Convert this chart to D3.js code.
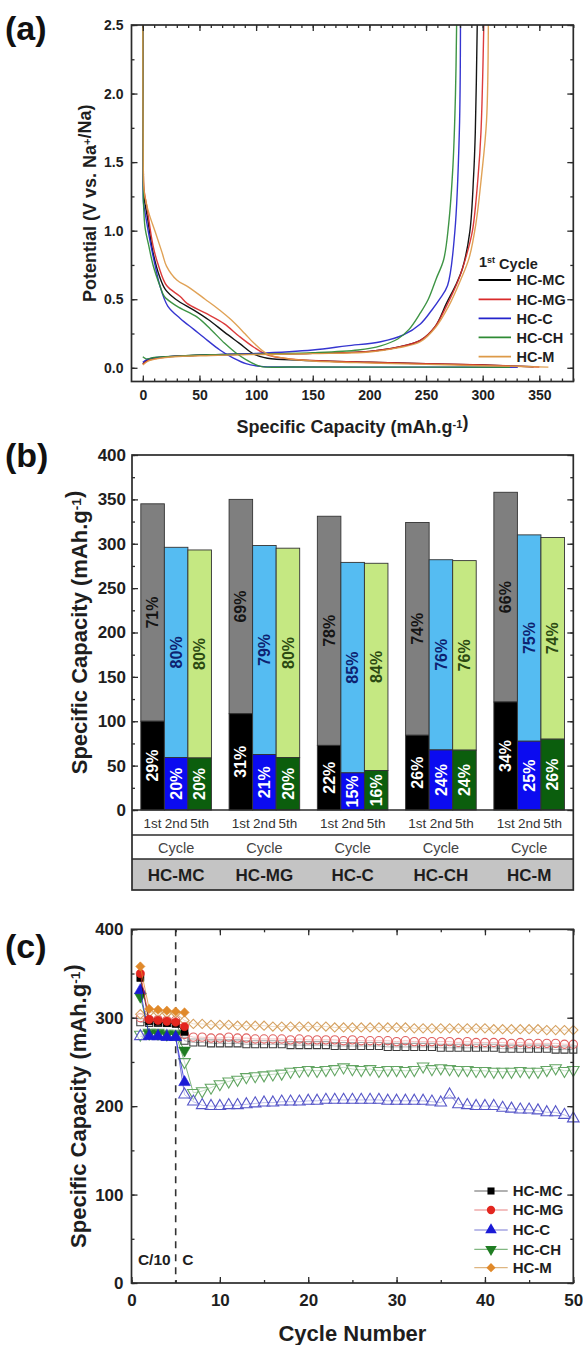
<!DOCTYPE html>
<html>
<head>
<meta charset="utf-8">
<script src="https://cdn.jsdelivr.net/npm/d3@7"></script>
<style>
  body { margin: 0; background: #fff; }
  svg { display: block; }
</style>
</head>
<body>
<svg id="chart" width="583" height="1345"></svg>
<script>
// ---------------- shared ----------------
const sampleNames = ["HC-MC", "HC-MG", "HC-C", "HC-CH", "HC-M"];

// ---------------- (a) first-cycle voltage profiles: [capacity mAh/g, potential V] ----------------
const dischargeHCMC = [[0,2.5],[0.4,1.5],[1,1.25],[4,1.1],[9,0.84],[15,0.66],[20,0.57],[29,0.5],[45,0.42],[58,0.35],[72,0.26],[85,0.18],[98,0.1],[110,0.07],[140,0.055],[200,0.04],[250,0.03],[300,0.02],[345,0.008]];
const dischargeHCMG = [[0,2.5],[0.4,1.5],[1,1.3],[3.5,1.18],[9,0.89],[14,0.74],[21,0.6],[33,0.52],[39,0.47],[55,0.4],[72,0.32],[85,0.23],[98,0.15],[111,0.09],[130,0.065],[160,0.05],[200,0.04],[250,0.03],[300,0.02],[350,0.006]];
const dischargeHCC  = [[0,2.5],[0.3,1.5],[0.6,1.2],[2,1.13],[6,0.94],[11,0.74],[15,0.6],[22,0.45],[33,0.36],[45,0.28],[57,0.2],[68,0.13],[80,0.07],[91,0.03],[104,0.01],[130,0.006],[200,0.005],[331,0.004]];
const dischargeHCCH = [[0,2.5],[0.3,1.5],[0.6,1.2],[2,1.02],[5,0.9],[9,0.75],[15,0.6],[19,0.52],[30,0.45],[48,0.37],[60,0.28],[72,0.18],[82,0.11],[91,0.06],[104,0.01],[130,0.006],[200,0.005],[324,0.004]];
const dischargeHCM  = [[0,2.5],[0.3,1.6],[1,1.3],[3,1.2],[6,1.11],[11,0.99],[17,0.84],[21,0.74],[30,0.64],[40,0.59],[55,0.5],[68,0.42],[78,0.35],[90,0.25],[98,0.18],[110,0.1],[125,0.07],[150,0.05],[200,0.035],[250,0.025],[300,0.015],[358,0.005]];

const chargeHCMC = [[0,0.03],[5,0.06],[20,0.08],[60,0.095],[100,0.1],[150,0.105],[200,0.12],[225,0.15],[245,0.2],[258,0.3],[268,0.47],[276,0.6],[282,0.72],[288.6,0.99],[292,1.4],[293.5,1.72],[295.2,2.5]];
const chargeHCMG = [[0,0.025],[5,0.055],[20,0.078],[60,0.093],[100,0.1],[150,0.105],[200,0.12],[225,0.15],[245,0.2],[258,0.3],[268,0.45],[279,0.65],[285,0.8],[291,1.0],[296,1.4],[298.5,1.72],[301,2.5]];
const chargeHCC  = [[0,0.04],[5,0.065],[20,0.08],[60,0.095],[100,0.105],[150,0.13],[180,0.16],[210,0.19],[230,0.24],[245,0.32],[255,0.42],[262,0.5],[269,0.6],[275.4,0.99],[279.4,1.72],[280.4,2.5]];
const chargeHCCH = [[0,0.08],[3,0.065],[10,0.075],[30,0.085],[60,0.095],[100,0.1],[150,0.11],[190,0.13],[210,0.16],[225,0.21],[235,0.28],[245,0.4],[252,0.5],[259,0.65],[265.6,0.79],[270,1.05],[273.8,1.48],[276,2.0],[277,2.5]];
const chargeHCM  = [[0,0.02],[5,0.05],[20,0.075],[60,0.09],[100,0.097],[150,0.103],[200,0.115],[225,0.145],[245,0.19],[258,0.29],[270,0.45],[281,0.65],[288,0.8],[294,1.05],[299,1.4],[303.4,1.8],[305,2.5]];

// ---------------- (b) capacity per cycle with split percentages ----------------
const cycleLabels = ["1st", "2nd", "5th"];
const capacityHCMC = [345, 296, 293];
const capacityHCMG = [350, 298, 295];
const capacityHCC  = [331, 279, 278];
const capacityHCCH = [324, 282, 281];
const capacityHCM  = [358, 310, 307];
const lowerShareHCMC = [29, 20, 20];
const lowerShareHCMG = [31, 21, 20];
const lowerShareHCC  = [22, 15, 16];
const lowerShareHCCH = [26, 24, 24];
const lowerShareHCM  = [34, 25, 26];

// ---------------- (c) cycling: filled = cycles 1-6, open = cycles 1-50 ----------------
const filledHCMC = [345, 296, 295, 294, 293, 284];
const filledHCMG = [350, 298, 297, 296, 295, 290];
const filledHCC  = [331, 279, 279, 278, 278, 227];
const filledHCCH = [324, 282, 282, 281, 281, 263];
const filledHCM  = [358, 310, 309, 308, 307, 306];

const openHCMC = [295,294,294,294,294,274,272,272,271,271, 271,271,270,270,270,270,270,269,269,269, 269,269,268,268,268,268,268,268,267,267, 267,267,267,267,266,266,266,266,266,266, 266,265,265,265,265,265,265,264,264,264];
const openHCMG = [300,298,298,297,297,281,278,278,277,277, 278,277,277,276,276,276,276,275,276,275, 275,275,275,274,275,274,274,274,274,273, 274,273,273,273,273,273,272,273,272,272, 272,272,271,272,271,271,271,271,270,270];
const openHCC  = [279,280,279,279,278,213,205,201,200,200, 201,201,202,203,204,204,205,205,205,206, 206,207,207,207,207,207,207,207,206,206, 206,206,206,205,204,213,202,201,200,200, 200,198,197,196,196,195,193,193,190,186];
const openHCCH = [281,283,283,282,282,250,215,217,221,225, 228,230,233,234,235,236,237,239,240,241, 240,241,242,244,242,241,242,240,241,241, 240,241,245,242,243,242,241,241,240,240, 239,239,239,240,239,239,241,243,240,241];
const openHCM  = [304,306,306,305,305,297,293,293,292,292, 292,291,291,291,291,290,290,290,290,290, 290,290,289,289,289,289,289,289,289,289, 289,288,288,288,288,288,288,288,288,288, 287,287,287,287,287,287,286,286,286,286];

// ---------------- styling ----------------
const FONT = '"Liberation Sans", Arial, Helvetica, sans-serif';
const INK = "#2b2b2b";
const profileColors = ["#000000", "#d92b2b", "#2424cc", "#2e8b35", "#dd9a48"];
const filledColors  = ["#000000", "#e3261f", "#1a1ad6", "#1f7d22", "#e0892a"];
const openColors    = ["#3c3c3c", "#e06060", "#5555c8", "#62a562", "#d6a262"];
const upperFill = ["#7f7f7f", "#55bcf2", "#c5e882"];
const lowerFill = ["#000000", "#0b0bf0", "#0b5e0d"];
const upperText = ["#151515", "#0d2270", "#2c4a12"];

const svg = d3.select("#chart").attr("font-family", FONT);
svg.append("rect").attr("width", 583).attr("height", 1345).attr("fill", "#fff");

function styleAxis(sel, fs) {
  sel.select(".domain").remove();
  sel.selectAll(".tick line").attr("stroke", INK).attr("stroke-width", 1.3);
  sel.selectAll(".tick text").attr("font-size", fs).attr("font-weight", "bold")
     .attr("fill", "#1e1e1e").attr("font-family", FONT);
}

function addAxis(g, axisFn, scale, at, values, size, fs, pad, fmt) {
  const ax = axisFn(scale).tickValues(values).tickSizeInner(-size).tickSizeOuter(0).tickPadding(pad || 0);
  ax.tickFormat(fmt === null ? () => "" : (fmt || d3.format("d")));
  const isVert = (axisFn === d3.axisLeft || axisFn === d3.axisRight);
  const sel = g.append("g").attr("transform", isVert ? `translate(${at},0)` : `translate(0,${at})`).call(ax);
  styleAxis(sel, fs);
  return sel;
}

function frame(g, x0, y0, x1, y1) {
  g.append("rect").attr("x", x0).attr("y", y0).attr("width", x1 - x0).attr("height", y1 - y0)
   .attr("fill", "none").attr("stroke", INK).attr("stroke-width", 1.7);
}

function supTitle(g, parts, attrs) {
  const t = g.append("text").attr("font-weight", "bold").attr("fill", "#1e1e1e").attr("text-anchor", "middle");
  Object.entries(attrs).forEach(([k, v]) => t.attr(k, v));
  parts.forEach(p => {
    if (p.sup) {
      t.append("tspan").attr("dy", "-0.45em").attr("font-size", "0.62em").text(p.sup);
      t.append("tspan").attr("dy", "0.28em").text("");
    } else {
      t.append("tspan").text(p.t);
    }
  });
  return t;
}

function panelLabel(text, y) {
  svg.append("text").attr("x", 5).attr("y", y).attr("font-size", 34).attr("font-weight", "bold")
     .attr("fill", "#111").text(text);
}

// ======================= Panel (a) =======================
{
  const L = 131.5, R = 573.3, T = 25, B = 381.5;
  const x = d3.scaleLinear().domain([-10, 380]).range([L, R]);
  const y = d3.scaleLinear().domain([-0.1, 2.5]).range([B, T]);
  const g = svg.append("g");

  const clipId = "clipA";
  g.append("clipPath").attr("id", clipId).append("rect").attr("x", L).attr("y", T).attr("width", R - L).attr("height", B - T);

  const line = d3.line().x(d => x(d[0])).y(d => y(d[1])).curve(d3.curveCatmullRom.alpha(0.5));
  const discharges = [dischargeHCMC, dischargeHCMG, dischargeHCC, dischargeHCCH, dischargeHCM];
  const charges = [chargeHCMC, chargeHCMG, chargeHCC, chargeHCCH, chargeHCM];
  const curves = g.append("g").attr("clip-path", `url(#${clipId})`);
  sampleNames.forEach((s, i) => {
    [discharges[i], charges[i]].forEach(data => {
      curves.append("path").datum(data).attr("d", line).attr("fill", "none")
        .attr("stroke", profileColors[i]).attr("stroke-width", 1.4).attr("stroke-opacity", 0.92);
    });
  });

  const xMajor = d3.range(0, 351, 50), xMinor = d3.range(0, 381, 10);
  const yMajor = [0, 0.5, 1, 1.5, 2, 2.5], yMinor = d3.range(0, 2.51, 0.25);
  addAxis(g, d3.axisBottom, x, B, xMinor, 3, 14, 0, null);
  addAxis(g, d3.axisBottom, x, B, xMajor, 6, 14, 9);
  addAxis(g, d3.axisTop, x, T, xMinor, 3, 14, 0, null);
  addAxis(g, d3.axisTop, x, T, xMajor, 6, 14, 0, null);
  addAxis(g, d3.axisLeft, y, L, yMinor, 3, 14, 0, null);
  addAxis(g, d3.axisLeft, y, L, yMajor, 6, 14, 8, d3.format(".1f"));
  addAxis(g, d3.axisRight, y, R, yMinor, 3, 14, 0, null);
  addAxis(g, d3.axisRight, y, R, yMajor, 6, 14, 0, null);
  frame(g, L, T, R, B);

  supTitle(g, [{t: "Specific Capacity (mAh.g"}, {sup: "-1"}, {t: ")"}],
    {x: (L + R) / 2, y: 433, "font-size": 18});
  supTitle(g, [{t: "Potential (V vs. Na"}, {sup: "+"}, {t: "/Na)"}],
    {transform: `translate(96,${(T + B) / 2}) rotate(-90)`, "font-size": 18});

  // legend
  const lg = g.append("g");
  const t1 = lg.append("text").attr("x", 479).attr("y", 267).attr("font-size", 14.5).attr("font-weight", "bold").attr("fill", "#1e1e1e");
  t1.append("tspan").text("1");
  t1.append("tspan").attr("dy", "-0.45em").attr("font-size", "0.62em").text("st");
  t1.append("tspan").attr("dy", "0.45em").text(" Cycle");
  const legY = [280, 299.3, 318.3, 337.3, 356.7];
  sampleNames.forEach((s, i) => {
    lg.append("line").attr("x1", 478.6).attr("x2", 511).attr("y1", legY[i]).attr("y2", legY[i])
      .attr("stroke", profileColors[i]).attr("stroke-width", 1.8);
    lg.append("text").attr("x", 516.6).attr("y", legY[i] + 5.2).attr("font-size", 14.5)
      .attr("font-weight", "bold").attr("fill", "#1e1e1e").text(s);
  });
  panelLabel("(a)", 40);
}

// ======================= Panel (b) =======================
{
  const L = 132, R = 573.3, T = 455, B = 810;
  const rowCycle = 835, rowName = 859, tableBottom = 890;
  const y = d3.scaleLinear().domain([0, 400]).range([B, T]);
  const xg = d3.scaleBand().domain(sampleNames).range([L, R]).paddingInner(0.2).paddingOuter(0.1);
  const xc = d3.scaleBand().domain(cycleLabels).range([0, xg.bandwidth()]);
  const g = svg.append("g");

  const capacities = [capacityHCMC, capacityHCMG, capacityHCC, capacityHCCH, capacityHCM];
  const shares = [lowerShareHCMC, lowerShareHCMG, lowerShareHCC, lowerShareHCCH, lowerShareHCM];
  const rows = [];
  sampleNames.forEach((s, i) => cycleLabels.forEach((c, j) => {
    const total = capacities[i][j], low = shares[i][j];
    rows.push({sample: s, cycle: c, j, total, low, lowValue: total * low / 100});
  }));

  // table background
  g.append("rect").attr("x", L).attr("y", rowName).attr("width", R - L).attr("height", tableBottom - rowName).attr("fill", "#c4c4c4");

  const bars = g.append("g");
  rows.forEach(d => {
    const bx = xg(d.sample) + xc(d.cycle), bw = xc.bandwidth();
    bars.append("rect").attr("x", bx).attr("width", bw)
      .attr("y", y(d.total)).attr("height", y(d.lowValue) - y(d.total))
      .attr("fill", upperFill[d.j]).attr("stroke", "#333").attr("stroke-width", 0.9);
    bars.append("rect").attr("x", bx).attr("width", bw)
      .attr("y", y(d.lowValue)).attr("height", y(0) - y(d.lowValue))
      .attr("fill", lowerFill[d.j]).attr("stroke", "#333").attr("stroke-width", 0.9);
    const cx = bx + bw / 2;
    const upMid = (y(d.total) + y(d.lowValue)) / 2, lowMid = (y(d.lowValue) + y(0)) / 2;
    bars.append("text").attr("transform", `translate(${cx + 5.6},${upMid}) rotate(-90)`)
      .attr("text-anchor", "middle").attr("font-size", 16).attr("font-weight", "bold")
      .attr("fill", upperText[d.j]).text((100 - d.low) + "%");
    bars.append("text").attr("transform", `translate(${cx + 5.6},${lowMid}) rotate(-90)`)
      .attr("text-anchor", "middle").attr("font-size", 16).attr("font-weight", "bold")
      .attr("fill", "#ffffff").text(d.low + "%");
  });

  addAxis(g, d3.axisLeft, y, L, d3.range(0, 401, 25), 3, 17, 0, null);
  addAxis(g, d3.axisLeft, y, L, d3.range(0, 401, 50), 6, 17, 6);
  addAxis(g, d3.axisRight, y, R, d3.range(0, 401, 25), 3, 17, 0, null);
  addAxis(g, d3.axisRight, y, R, d3.range(0, 401, 50), 6, 17, 0, null);

  // table labels
  rows.forEach(d => {
    g.append("text").attr("x", xg(d.sample) + xc(d.cycle) + xc.bandwidth() / 2).attr("y", 828)
      .attr("text-anchor", "middle").attr("font-size", 13.5).attr("fill", "#333").text(d.cycle);
  });
  sampleNames.forEach(s => {
    const cx = xg(s) + xg.bandwidth() / 2;
    g.append("text").attr("x", cx).attr("y", 852.5).attr("text-anchor", "middle")
      .attr("font-size", 14.5).attr("fill", "#444").text("Cycle");
    g.append("text").attr("x", cx).attr("y", 881).attr("text-anchor", "middle")
      .attr("font-size", 17).attr("font-weight", "bold").attr("fill", "#1e1e1e").text(s);
  });

  frame(g, L, T, R, tableBottom);
  [B, rowCycle, rowName].forEach(yy => g.append("line").attr("x1", L).attr("x2", R).attr("y1", yy).attr("y2", yy)
    .attr("stroke", INK).attr("stroke-width", 1.5));

  supTitle(g, [{t: "Specific Capacity (mAh.g"}, {sup: "-1"}, {t: ")"}],
    {transform: `translate(87,${(T + B) / 2}) rotate(-90)`, "font-size": 22});
  panelLabel("(b)", 467);
}

// ======================= Panel (c) =======================
{
  const L = 131.5, R = 573.3, T = 929.3, B = 1283;
  const x = d3.scaleLinear().domain([0, 50]).range([L, R]);
  const y = d3.scaleLinear().domain([0, 400]).range([B, T]);
  const g = svg.append("g");
  const cycles = d3.range(1, 51);

  // rate change marker
  g.append("line").attr("x1", x(5)).attr("x2", x(5)).attr("y1", T).attr("y2", B)
    .attr("stroke", "#333").attr("stroke-width", 1.6).attr("stroke-dasharray", "7,6");
  g.append("text").attr("x", x(5) - 5).attr("y", 1265).attr("text-anchor", "end")
    .attr("font-size", 15.5).attr("font-weight", "bold").attr("fill", "#1e1e1e").text("C/10");
  g.append("text").attr("x", x(5) + 6.5).attr("y", 1265)
    .attr("font-size", 15.5).attr("font-weight", "bold").attr("fill", "#1e1e1e").text("C");

  const symbols = [
    {type: d3.symbolSquare, size: 50, rot: 0},
    {type: d3.symbolCircle, size: 54, rot: 0},
    {type: d3.symbolTriangle, size: 58, rot: 0},
    {type: d3.symbolTriangle, size: 58, rot: 180},
    {type: d3.symbolSquare, size: 42, rot: 45}
  ];
  const filled = [filledHCMC, filledHCMG, filledHCC, filledHCCH, filledHCM];
  const open = [openHCMC, openHCMG, openHCC, openHCCH, openHCM];
  const line = d3.line().x(d => x(d[0])).y(d => y(d[1]));
  const drawOrder = [3, 2, 0, 1, 4];

  drawOrder.forEach(i => {
    const pts = cycles.map((c, k) => [c, open[i][k]]);
    g.append("path").datum(pts).attr("d", line).attr("fill", "none")
      .attr("stroke", openColors[i]).attr("stroke-width", 1).attr("stroke-opacity", 0.8);
    const sym = d3.symbol().type(symbols[i].type).size(symbols[i].size);
    g.append("g").selectAll("path").data(pts).join("path")
      .attr("d", sym)
      .attr("transform", d => `translate(${x(d[0])},${y(d[1])}) rotate(${symbols[i].rot})`)
      .attr("fill", "#fff").attr("fill-opacity", 0.55)
      .attr("stroke", openColors[i]).attr("stroke-width", 1.1);
  });
  drawOrder.forEach(i => {
    const pts = filled[i].map((v, k) => [cycles[k], v]);
    g.append("path").datum(pts).attr("d", line).attr("fill", "none")
      .attr("stroke", filledColors[i]).attr("stroke-width", 1).attr("stroke-opacity", 0.75);
    const sym = d3.symbol().type(symbols[i].type).size(symbols[i].size);
    g.append("g").selectAll("path").data(pts).join("path")
      .attr("d", sym)
      .attr("transform", d => `translate(${x(d[0])},${y(d[1])}) rotate(${symbols[i].rot})`)
      .attr("fill", filledColors[i]).attr("stroke", filledColors[i]).attr("stroke-width", 0.6);
  });

  addAxis(g, d3.axisBottom, x, B, d3.range(0, 51, 5), 3, 17, 0, null);
  addAxis(g, d3.axisBottom, x, B, d3.range(0, 51, 10), 6, 17, 11);
  addAxis(g, d3.axisTop, x, T, d3.range(0, 51, 5), 3, 17, 0, null);
  addAxis(g, d3.axisTop, x, T, d3.range(0, 51, 10), 6, 17, 0, null);
  addAxis(g, d3.axisLeft, y, L, d3.range(0, 401, 50), 3, 17, 0, null);
  addAxis(g, d3.axisLeft, y, L, d3.range(0, 401, 100), 6, 17, 8);
  addAxis(g, d3.axisRight, y, R, d3.range(0, 401, 50), 3, 17, 0, null);
  addAxis(g, d3.axisRight, y, R, d3.range(0, 401, 100), 6, 17, 0, null);
  frame(g, L, T, R, B);

  g.append("text").attr("x", (L + R) / 2).attr("y", 1341).attr("text-anchor", "middle")
    .attr("font-size", 22).attr("font-weight", "bold").attr("fill", "#1e1e1e").text("Cycle Number");
  supTitle(g, [{t: "Specific Capacity (mAh.g"}, {sup: "-1"}, {t: ")"}],
    {transform: `translate(86,${(T + B) / 2}) rotate(-90)`, "font-size": 22});

  // legend
  const legY = [1191, 1210, 1230, 1249.3, 1267.7];
  sampleNames.forEach((s, i) => {
    g.append("line").attr("x1", 474.3).attr("x2", 507.7).attr("y1", legY[i]).attr("y2", legY[i])
      .attr("stroke", openColors[i]).attr("stroke-width", 1.2).attr("stroke-opacity", 0.8);
    g.append("path").attr("d", d3.symbol().type(symbols[i].type).size(symbols[i].size))
      .attr("transform", `translate(491,${legY[i]}) rotate(${symbols[i].rot})`)
      .attr("fill", filledColors[i]);
    g.append("text").attr("x", 512.7).attr("y", legY[i] + 5.4).attr("font-size", 15)
      .attr("font-weight", "bold").attr("fill", "#1e1e1e").text(s);
  });
  panelLabel("(c)", 958);
}
</script>
</body>
</html>
